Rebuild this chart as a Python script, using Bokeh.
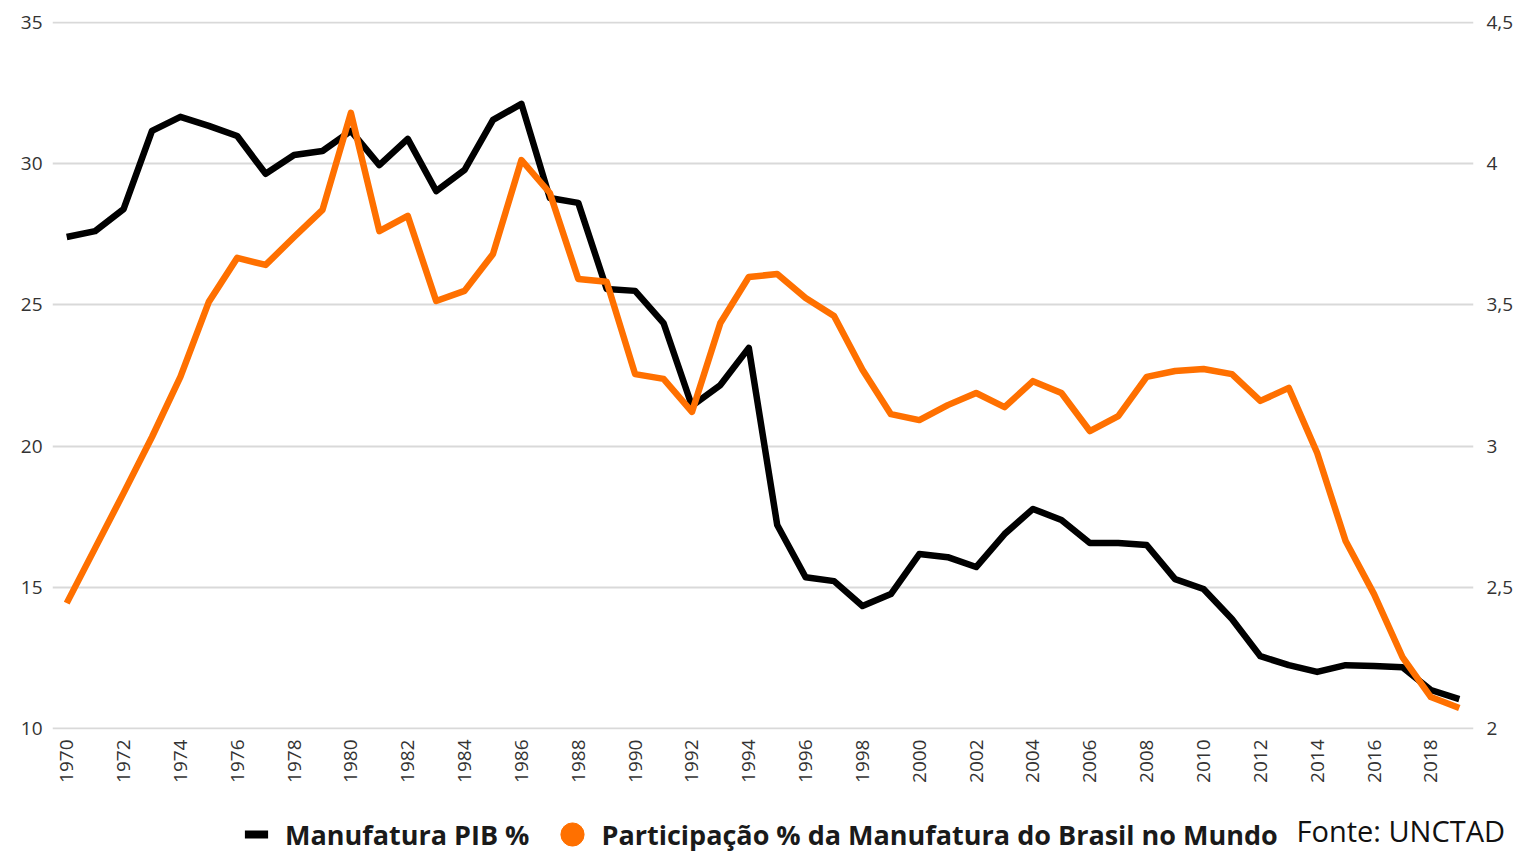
import math
from bokeh.plotting import figure
from bokeh.layouts import column
from bokeh.models import (Range1d, LinearAxis, FixedTicker, Legend,
                          LegendItem, Label)
from bokeh.embed import file_html
from bokeh.resources import INLINE

# ---------------- data ----------------
years = list(range(1970, 2020))

manufatura_pib = [
    27.41, 27.62, 28.40, 31.17, 31.67, 31.35, 30.99, 29.65, 30.32, 30.46,
    31.17, 29.96, 30.89, 29.04, 29.79, 31.56, 32.13, 28.79, 28.62, 25.57,
    25.50, 24.36, 21.42, 22.16, 23.48, 17.20, 15.35, 15.21, 14.33, 14.75,
    16.17, 16.06, 15.71, 16.88, 17.77, 17.38, 16.56, 16.56, 16.49, 15.28,
    14.93, 13.87, 12.55, 12.23, 11.99, 12.23, 12.20, 12.16, 11.35, 11.03,
]

participacao_mundo = [
    2.443, 2.638, 2.833, 3.032, 3.245, 3.511, 3.667, 3.642, 3.741, 3.837,
    4.181, 3.762, 3.816, 3.514, 3.550, 3.681, 4.014, 3.897, 3.592, 3.582,
    3.255, 3.238, 3.121, 3.436, 3.599, 3.610, 3.525, 3.461, 3.270, 3.113,
    3.092, 3.145, 3.188, 3.138, 3.230, 3.188, 3.053, 3.106, 3.245, 3.266,
    3.273, 3.255, 3.160, 3.206, 2.975, 2.663, 2.475, 2.252, 2.110, 2.071,
]

x_ticks = years[::2]
left_ticks = [10, 15, 20, 25, 30, 35]
right_ticks = [2, 2.5, 3, 3.5, 4, 4.5]
right_tick_labels = ["2", "2,5", "3", "3,5", "4", "4,5"]

serie_pib = "Manufatura PIB %"
serie_mundo = "Participação % da Manufatura do Brasil no Mundo"
fonte = "Fonte: UNCTAD"

BLACK = "#000000"
ORANGE = "#ff7000"
GRID = "#d9d9d9"
FONT = "Open Sans"

# ---------------- main chart ----------------
p = figure(
    x_range=Range1d(years[0] - 0.5, years[-1] + 0.5),
    y_range=Range1d(9.95, 35.05),
    frame_width=1421, frame_height=708,
    min_border_left=52, min_border_right=40,
    min_border_top=21, min_border_bottom=62,
    output_backend="svg", toolbar_location=None,
    background_fill_color="white", border_fill_color="white",
    outline_line_color=None, frame_align=False,
)

p.extra_y_ranges = {"right": Range1d(1.995, 4.505)}
right_axis = LinearAxis(
    y_range_name="right",
    ticker=FixedTicker(ticks=right_ticks),
    major_label_overrides=dict(zip(right_ticks, right_tick_labels)),
)
p.add_layout(right_axis, "right")

p.yaxis[0].ticker = FixedTicker(ticks=left_ticks)
p.xaxis.ticker = FixedTicker(ticks=x_ticks)

for ax in p.axis:
    ax.axis_line_color = None
    ax.major_tick_line_color = None
    ax.minor_tick_line_color = None
    ax.major_tick_out = 0
    ax.major_tick_in = 0
    ax.minor_tick_out = 0
    ax.major_label_text_font = FONT
    ax.major_label_text_font_size = "19px"
    ax.major_label_text_color = "#333333"

p.yaxis[0].major_label_standoff = 10
right_axis.major_label_standoff = 13
p.xaxis.major_label_orientation = math.pi / 2
p.xaxis.major_label_standoff = 10

p.xgrid.grid_line_color = None
p.ygrid.ticker = FixedTicker(ticks=left_ticks)
p.ygrid.grid_line_color = GRID
p.ygrid.grid_line_width = 2

p.line(x=years, y=manufatura_pib, line_color=BLACK, line_width=6.5,
       line_join="round")
p.line(x=years, y=participacao_mundo, line_color=ORANGE, line_width=6.5,
       line_join="round", y_range_name="right")

# ---------------- legend / source row ----------------
leg = figure(
    width=1519, height=62,
    x_range=Range1d(0, 1), y_range=Range1d(0, 1),
    x_axis_location=None, y_axis_location=None,
    min_border=0, output_backend="svg", toolbar_location=None,
    background_fill_color="white", border_fill_color="white",
    outline_line_color=None, frame_align=False,
)
leg.grid.grid_line_color = None

# swatch renderers (their points lie outside this strip's ranges)
r_pib = leg.scatter(x=years, y=manufatura_pib, marker="dash",
                    line_color=BLACK, line_width=8)
r_mundo = leg.scatter(x=years, y=participacao_mundo, marker="circle",
                      fill_color=ORANGE, line_color=ORANGE)

legend = Legend(
    items=[LegendItem(label=serie_pib, renderers=[r_pib]),
           LegendItem(label=serie_mundo, renderers=[r_mundo])],
    location=(227, -10), orientation="horizontal",
    glyph_width=58, glyph_height=58, label_standoff=0, spacing=14,
    padding=0, margin=0, border_line_color=None, background_fill_alpha=0,
    label_text_font=FONT, label_text_font_style="bold",
    label_text_font_size="27px", label_text_color="#1a1a1a",
)
leg.add_layout(legend)

leg.add_layout(Label(x=1296, y=23, x_units="screen", y_units="screen",
                     text=fonte, text_font=FONT, text_font_size="29px",
                     text_color="#111111", text_baseline="alphabetic"))

open("out.html", "w").write(file_html(column(p, leg, spacing=0), INLINE))
